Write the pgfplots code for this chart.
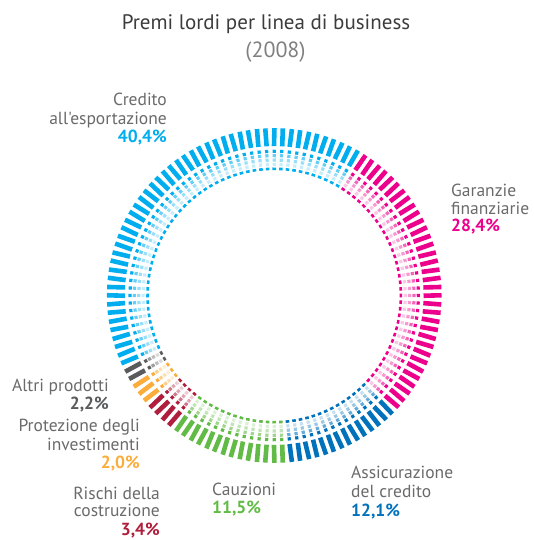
\documentclass[border=0pt]{standalone}
\usepackage{fontspec}
\setmainfont{PT Sans}[Ligatures=TeXOff]
\usepackage{pgfplots}
\pgfplotsset{compat=1.18}
\usepackage{pgfplotstable}

\definecolor{cCred}{HTML}{00AEEF}
\definecolor{cGar}{HTML}{EC008C}
\definecolor{cAss}{HTML}{0072BC}
\definecolor{cCau}{HTML}{62BB46}
\definecolor{cRis}{HTML}{AF1E3C}
\definecolor{cPro}{HTML}{FBAD3C}
\definecolor{cAlt}{HTML}{5A5B5D}
\definecolor{txt}{HTML}{6A6A6A}
\definecolor{ttl}{HTML}{3C3C3C}
\definecolor{sub}{HTML}{808080}

% Shares (%): Credito all'esportazione 40.4, Garanzie finanziarie 28.4,
% Assicurazione del credito 12.1, Cauzioni 11.5, Rischi della costruzione 3.4,
% Protezione degli investimenti 2.0, Altri prodotti 2.2
% Each segment: polar angles (deg) of its arc, 3 deg per dash, clockwise from the top.
\pgfplotstableread{
a
205.5
199.5
193.5
187.5
181.5
175.5
169.5
163.5
157.5
151.5
145.5
139.5
133.5
127.5
121.5
115.5
109.5
103.5
97.5
91.5
85.5
79.5
73.5
67.5
61.5
58.5
}\tCred
\pgfplotstableread{
a
58.5
52.5
46.5
40.5
34.5
28.5
22.5
16.5
10.5
4.5
-1.5
-7.5
-13.5
-19.5
-25.5
-31.5
-37.5
-43.5
}\tGar
\pgfplotstableread{
a
-43.5
-49.5
-55.5
-61.5
-67.5
-73.5
-79.5
-85.5
}\tAss
\pgfplotstableread{
a
-85.5
-91.5
-97.5
-103.5
-109.5
-115.5
-121.5
-127.5
}\tCau
\pgfplotstableread{
a
-127.5
-133.5
-139.5
}\tRis
\pgfplotstableread{
a
-139.5
-145.5
-148.5
}\tPro
\pgfplotstableread{
a
-148.5
-154.5
}\tAlt

% one ring of one segment: #1 table, #2 colour, #3 radius, #4 line width, #5 dash length
\newcommand\ringseg[5]{%
  \pgfmathsetmacro\rp{#3*sin(3)}%
  \pgfmathsetmacro\roff{\rp-#5}%
  \pgfmathsetmacro\rph{(#5+\rp)/2}%
  \edef\doit{\noexpand\addplot[draw=#2, line width=#4pt, dash pattern=on #5pt off \roff pt, dash phase=\rph pt, data cs=polar, mark=none, forget plot] table[x index=0, y index=0, y expr=#3] {\noexpand#1};}%
  \doit
}
\newcommand\seg[2]{%
  \ringseg{#1}{#2}{158.5}{18}{4.6}%
  \ringseg{#1}{#2}{144.3}{3.2}{3.2}%
  \ringseg{#1}{#2!60}{140}{3.2}{3.2}%
  \ringseg{#1}{#2!40}{135.6}{3.2}{3.2}%
  \ringseg{#1}{#2!22}{131.2}{3.2}{3.2}%
  \ringseg{#1}{#2}{126.8}{2.6}{3.6}%
}

\begin{document}
\begin{tikzpicture}
\begin{axis}[
  x=1pt, y=1pt,
  xmin=-274.2, xmax=258.8, ymin=-244.5, ymax=295.5,
  hide axis, clip=false,
]
\seg{\tCred}{cCred}
\seg{\tGar}{cGar}
\seg{\tAss}{cAss}
\seg{\tCau}{cCau}
\seg{\tRis}{cRis}
\seg{\tPro}{cPro}
\seg{\tAlt}{cAlt}

\node[anchor=base, text=ttl, font=\fontsize{21}{25}\selectfont] at (axis cs:-8.2,265.5) {Premi lordi per linea di business};
\node[anchor=base, text=sub, font=\fontsize{22}{26}\selectfont] at (axis cs:1.3,237.5) {(2008)};

\tikzset{lab/.style={text=txt, font=\fontsize{17.5}{20}\selectfont, inner sep=0pt},
         pct/.style={font=\fontsize{17.5}{20}\selectfont\bfseries, inner sep=0pt}}
% Credito all'esportazione
\node[lab, anchor=base east] at (axis cs:-107.2,189.5) {Credito};
\node[lab, anchor=base east] at (axis cs:-107.2,171) {all'esportazione};
\node[pct, text=cCred, anchor=base east] at (axis cs:-107.2,152.5) {40,4\%};
% Garanzie finanziarie
\node[lab, anchor=base west] at (axis cs:176.8,98.5) {Garanzie};
\node[lab, anchor=base west] at (axis cs:176.8,81) {finanziarie};
\node[pct, text=cGar, anchor=base west] at (axis cs:176.8,63.5) {28,4\%};
% Assicurazione del credito
\node[lab, anchor=base west] at (axis cs:76.8,-183.5) {Assicurazione};
\node[lab, anchor=base west] at (axis cs:76.8,-202.5) {del credito};
\node[pct, text=cAss, anchor=base west] at (axis cs:76.8,-221.5) {12,1\%};
% Cauzioni
\node[lab, anchor=base west] at (axis cs:-62.2,-200.5) {Cauzioni};
\node[pct, text=cCau, anchor=base west] at (axis cs:-62.2,-218.5) {11,5\%};
% Rischi della costruzione
\node[lab, anchor=base east] at (axis cs:-114.2,-204.5) {Rischi della};
\node[lab, anchor=base east] at (axis cs:-114.2,-221.5) {costruzione};
\node[pct, text=cRis, anchor=base east] at (axis cs:-114.2,-239.5) {3,4\%};
% Altri prodotti
\node[lab, anchor=base east] at (axis cs:-165.2,-96.5) {Altri prodotti};
\node[pct, text=cAlt, anchor=base east] at (axis cs:-165.2,-114.5) {2,2\%};
% Protezione degli investimenti
\node[lab, anchor=base east] at (axis cs:-134.2,-136.5) {Protezione degli};
\node[lab, anchor=base east] at (axis cs:-134.2,-155.5) {investimenti};
\node[pct, text=cPro, anchor=base east] at (axis cs:-134.2,-173.5) {2,0\%};
\end{axis}
\pgfresetboundingbox
\useasboundingbox (0,0) rectangle (533pt,540pt);
\end{tikzpicture}
\end{document}
